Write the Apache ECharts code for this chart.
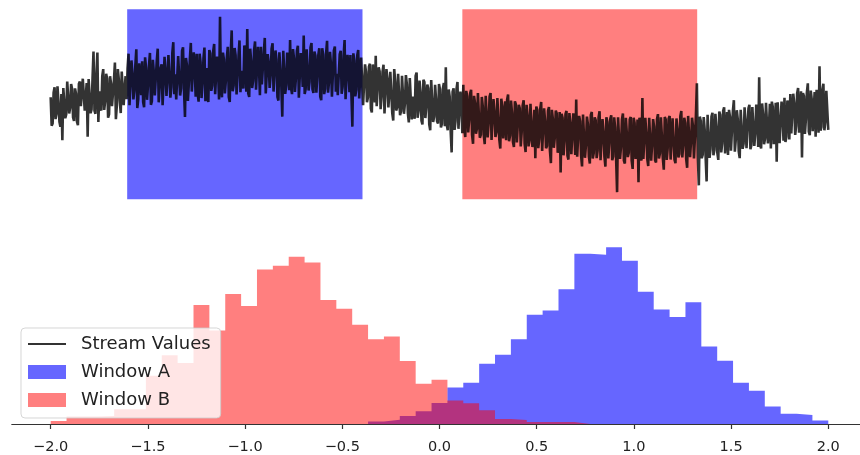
<!DOCTYPE html>
<html><head><meta charset="utf-8">
<script src="https://cdn.jsdelivr.net/npm/echarts@6/dist/echarts.min.js"></script>
<style>html,body{margin:0;padding:0;background:#fff}#chart{width:860px;height:455px}</style>
</head><body><div id="chart"></div>
<script>
// Stream values (one value per ~1px)
const streamValues = [
0.36,-0.43,-0.37,0.49,0.64,-0.25,-0.09,0.67,0.22,-0.32,-0.46,0.45,-0.84,0.62,0.57,-0.22,-0.11,0.80,0.85,-0.09,0.07,0.73,0.59,-0.20,-0.30,0.61,0.47,-0.32,-0.42,0.74,0.80,0.11,0.07,0.88,0.93,-0.01,-0.05,0.76,-0.74,0.87,
0.91,-0.08,0.02,0.88,1.64,-0.01,-0.10,1.01,1.61,-0.33,0.53,0.08,-0.01,0.95,1.15,0.01,0.26,1.02,0.88,-0.21,-0.11,0.95,0.75,0.11,0.47,0.83,1.33,-0.25,0.14,1.15,0.86,0.26,-0.08,1.08,1.08,0.14,0.60,0.95,0.31,1.17,
1.58,0.14,0.14,1.39,1.04,0.30,0.55,1.25,1.70,0.06,0.31,1.31,0.92,0.42,1.37,0.23,0.08,1.48,1.18,0.29,0.69,1.24,1.60,0.15,0.25,1.41,1.06,0.41,0.46,1.37,1.72,0.22,0.68,1.18,1.28,0.14,0.09,1.49,1.04,0.40,
0.39,1.54,1.59,0.35,0.65,1.60,1.90,0.45,1.00,0.30,0.31,1.51,1.47,0.41,0.61,1.66,1.76,0.56,-0.19,1.46,1.26,0.26,0.77,1.42,1.88,0.52,0.48,1.62,1.13,0.38,1.58,0.48,0.24,1.58,1.34,0.34,0.74,1.44,1.75,0.25,
1.18,0.38,0.23,1.68,1.59,0.54,0.69,1.64,1.85,0.45,0.45,1.50,1.10,0.30,2.61,0.61,0.36,1.61,1.42,0.47,0.82,1.47,1.77,0.37,0.23,1.58,2.23,0.53,0.69,1.74,1.54,0.44,0.44,1.49,1.95,0.50,1.10,0.71,0.61,1.81,
1.52,0.52,2.27,0.47,0.37,1.72,1.37,0.62,0.82,1.67,1.92,0.57,0.52,1.77,1.22,0.42,1.77,0.72,0.67,1.62,2.02,0.47,0.42,1.57,1.32,0.62,0.97,1.72,1.87,0.52,0.57,1.67,1.42,0.37,0.27,1.62,1.67,0.67,-0.18,1.66,
1.71,0.46,0.71,1.61,1.26,0.56,1.96,0.61,0.45,1.71,1.45,0.51,0.90,1.66,1.80,0.35,0.35,1.60,1.35,0.65,2.09,0.45,0.59,1.70,1.14,0.55,0.79,1.75,1.88,0.59,0.48,1.64,1.53,0.49,0.98,1.54,1.73,0.38,0.28,1.73,
1.55,0.45,0.60,1.59,1.94,0.49,0.79,1.63,1.28,0.38,0.33,1.67,1.78,0.52,1.02,0.42,0.47,1.56,1.66,0.46,0.66,1.51,1.96,0.31,0.35,1.55,1.20,0.50,1.54,0.45,-0.46,1.59,1.39,0.39,0.58,1.53,1.68,0.33,0.37,1.47,
1.48,0.14,0.14,1.28,1.08,0.22,0.36,1.21,1.30,0.04,-0.06,1.28,0.83,0.22,1.52,0.11,0.15,1.20,1.09,0.03,0.38,1.07,1.27,-0.09,-0.09,1.15,0.89,0.08,0.48,1.07,1.12,-0.09,-0.29,1.15,0.80,-0.01,0.08,1.02,1.02,-0.14,
-0.03,0.96,1.00,-0.10,0.19,0.98,0.72,-0.08,-0.34,0.90,0.85,-0.26,0.38,-0.08,-0.24,0.96,1.05,-0.21,-0.01,0.83,0.52,-0.29,-0.40,0.85,0.79,-0.22,0.12,0.72,0.61,-0.40,-0.56,0.84,0.83,-0.33,-0.18,0.71,0.29,-0.31,-0.37,0.73,
0.58,-0.48,-0.38,0.61,0.76,-0.45,1.20,-0.41,-0.56,0.58,0.38,-0.58,-1.18,0.51,0.61,-0.55,-0.30,0.59,0.79,-0.52,-0.57,0.52,0.17,-0.64,0.71,-0.50,-0.75,0.54,0.39,-0.62,-0.27,0.47,0.57,-0.69,-0.94,0.40,0.20,-0.66,-0.51,0.48,
0.43,-0.77,-0.68,0.37,0.11,-0.69,-0.95,0.40,0.35,-0.76,-0.36,0.38,0.48,-0.83,-0.83,0.31,-0.04,-0.75,-0.61,0.34,0.39,-0.82,-1.07,0.32,0.12,-0.79,-0.29,0.25,-0.84,0.29,0.44,-0.87,-0.71,0.27,-0.07,-0.89,-1.03,0.25,0.16,-0.90,
-0.94,0.15,0.05,-1.01,-0.61,0.13,0.28,-0.93,-1.17,0.15,-0.14,-1.01,-0.85,0.18,0.14,-1.03,-0.58,0.01,-1.34,0.10,0.00,-1.06,-0.81,0.03,0.23,-1.14,-1.13,0.05,-0.29,-1.06,-1.00,-0.02,0.09,-1.13,-1.48,0.01,-0.24,-1.05,-0.76,-0.01,
-0.09,-1.19,-1.05,-0.05,-1.74,-0.10,-0.21,-1.26,-0.86,-0.11,-0.02,-1.27,-1.38,-0.08,-0.38,-1.23,-1.19,-0.09,-0.59,-1.25,0.30,-1.30,-1.31,-0.16,-0.31,-1.26,-1.57,-0.12,-0.12,-1.33,-0.98,-0.18,-0.39,-1.29,-1.49,-0.14,-0.05,-1.35,-1.20,-0.20,
-0.28,-1.34,-1.13,-0.20,-0.03,-1.40,-1.38,-0.25,-0.58,-1.30,-1.58,-0.20,-0.33,-1.35,-0.89,-0.25,-0.14,-1.40,-1.29,-0.20,-0.49,-1.35,-2.29,-0.20,-0.24,-1.36,-1.04,-0.26,-0.09,-1.41,-1.49,-0.21,-0.64,-1.31,-1.19,-0.26,-0.19,-1.41,-1.64,-0.21,
-0.36,-1.36,-1.11,-0.26,-2.01,-0.21,-0.41,-1.41,0.34,-1.36,-1.36,-0.21,-0.61,-1.36,-1.56,-0.21,-0.21,-1.41,-0.96,-0.25,-0.46,-1.40,-1.46,-0.25,-0.11,-1.35,-1.21,-0.20,-0.71,-1.34,-1.66,-0.19,-0.26,-1.39,-1.06,-0.24,-0.16,-1.38,-1.41,-0.23,
-0.28,-1.38,-1.48,-0.23,-0.53,-1.32,-1.22,-0.17,-0.02,-1.32,-0.97,-0.21,-0.36,-1.36,-1.61,-0.16,-0.16,-1.31,-0.86,-0.21,-0.46,-1.35,-1.35,-0.15,0.75,-1.30,-2.10,-0.18,-0.30,-1.34,-1.24,-0.19,-0.54,-1.33,-1.99,-0.13,-0.18,-1.33,-1.08,-0.18,
-0.07,-1.26,-1.11,-0.10,-0.45,-1.19,-1.39,-0.04,-0.13,-1.18,-0.93,-0.02,0.08,-1.21,-0.76,-0.05,-1.25,0.01,-0.19,-1.13,-1.08,-0.02,0.28,-1.16,-0.81,0.00,-0.25,-1.15,-1.34,0.01,0.02,-1.08,-0.93,0.08,-0.37,-1.06,-1.11,0.05,0.15,-1.09,
-0.97,0.09,0.09,-1.00,-0.65,0.16,-0.04,-1.03,0.92,-0.97,-1.07,0.19,-0.11,-0.95,-0.80,0.21,0.21,-0.93,-0.48,0.18,-1.07,0.24,0.09,-0.95,-0.65,0.21,-1.44,0.22,0.17,-0.92,-0.87,0.24,-0.06,-0.85,0.35,-0.89,-0.74,0.27,0.07,-0.82,
0.45,-0.65,-0.70,0.46,0.21,-0.69,-0.44,0.47,0.62,-0.63,-0.58,0.53,-1.32,0.48,0.39,-0.66,-0.26,0.49,0.75,-0.60,-0.70,0.55,0.30,-0.59,0.01,0.51,-0.74,0.57,0.57,-0.63,1.23,-0.57,-0.47,0.58,0.74,-0.56,-0.31,0.54,0.50,-0.55
];
const windowA = [78.6, 320.4];
const windowB = [423, 664.3];

// Histogram (density) over 49 equal bins from -2 to 2
const histRange = [-2, 2];
const histBins = 49;
const windowAHist = [0,0,0,0,0,0,0,0,0,0,0,0,0,0,0,0,0,0,0,0,
0.015,0.025,0.046,0.074,0.122,0.212,0.240,0.350,0.402,0.492,0.635,0.659,0.783,0.989,0.983,1.027,0.949,0.768,0.665,0.621,0.707,0.450,0.368,0.240,0.193,0.101,0.059,0.053,0.021];
const windowBHist = [0.017,0.043,0.043,0.046,0.086,0.086,0.280,0.400,0.354,0.692,0.543,0.755,0.686,0.898,0.920,0.972,0.938,0.720,0.669,0.577,0.492,0.509,0.366,0.234,0.257,0.137,0.120,0.080,0.029,0.023,0.011,0.011,0.011,
0,0,0,0,0,0,0,0,0,0,0,0,0,0,0,0];

const tickValues = [-2, -1.5, -1, -0.5, 0, 0.5, 1, 1.5, 2];
const tickLabels = ['\u22122.0','\u22121.5','\u22121.0','\u22120.5','0.0','0.5','1.0','1.5','2.0'];

const binW = (histRange[1] - histRange[0]) / histBins;
function stepData(h) {
  const d = [];
  for (let k = 0; k < h.length; k++) d.push([histRange[0] + k * binW, h[k]]);
  d.push([histRange[1], h[h.length - 1]]);
  return d;
}
const n = streamValues.length;
const streamData = streamValues.map((v, i) => [i, v]);
// axes margins (left 5%, right side cut by the canvas edge)
const leftMargin = 0.05, rightMargin = 0.0408;
const span = histRange[1] - histRange[0];
const font = 'DejaVu Sans';

const chart = echarts.init(document.getElementById('chart'), null, {renderer: 'canvas'});
chart.setOption({
  animation: false,
  backgroundColor: '#fff',
  grid: [
    {left: 11.8, right: 0, top: 9.3, height: 190},
    {left: 11.8, right: 0, top: 238, height: 189}
  ],
  xAxis: [
    {type: 'value', gridIndex: 0, min: -leftMargin * (n - 1), max: (n - 1) * (1 + rightMargin), show: false},
    {type: 'value', gridIndex: 1, min: histRange[0] - leftMargin * span, max: histRange[1] + rightMargin * span,
     splitLine: {show: false},
     axisLine: {onZero: false, lineStyle: {color: '#333', width: 1.2}},
     axisTick: {customValues: tickValues, length: 5, lineStyle: {color: '#333', width: 1.2}},
     axisLabel: {customValues: tickValues, margin: 16, fontSize: 14.5, color: '#222', fontFamily: font,
       formatter: v => tickLabels[tickValues.findIndex(t => Math.abs(t - v) < 1e-9)]}}
  ],
  yAxis: [
    {type: 'value', gridIndex: 0, min: -2.49, max: 2.82, show: false},
    {type: 'value', gridIndex: 1, min: 0, max: 1.0805, show: false}
  ],
  legend: {
    orient: 'vertical', left: 21, top: 328, padding: [7, 10, 9, 7], itemGap: 10,
    itemWidth: 38, itemHeight: 14, selectedMode: false,
    backgroundColor: 'rgba(255,255,255,0.8)', borderColor: 'rgba(204,204,204,0.8)',
    borderWidth: 1, borderRadius: 4,
    textStyle: {fontFamily: font, fontSize: 18, color: '#222', padding: [0, 0, 0, 10]},
    data: [
      {name: 'Stream Values', icon: 'path://M0,0H38V2H0Z', itemStyle: {color: 'rgba(0,0,0,0.8)'}},
      {name: 'Window A', icon: 'rect', itemStyle: {color: 'rgba(0,0,255,0.6)'}},
      {name: 'Window B', icon: 'rect', itemStyle: {color: 'rgba(255,0,0,0.5)'}}
    ]
  },
  series: [
    {name: 'Stream Values', type: 'line', xAxisIndex: 0, yAxisIndex: 0, data: streamData,
     symbol: 'none', showSymbol: false, z: 3, silent: true,
     lineStyle: {color: 'rgba(0,0,0,0.8)', width: 2.6, join: 'bevel'}, itemStyle: {color: 'rgba(0,0,0,0.8)'},
     markArea: {silent: true, label: {show: false}, itemStyle: {borderWidth: 0},
       data: [
         [{xAxis: windowA[0], itemStyle: {color: 'rgba(0,0,255,0.6)'}}, {xAxis: windowA[1]}],
         [{xAxis: windowB[0], itemStyle: {color: 'rgba(255,0,0,0.5)'}}, {xAxis: windowB[1]}]
       ]}},
    {name: 'Window A', type: 'line', xAxisIndex: 1, yAxisIndex: 1, data: stepData(windowAHist),
     step: 'end', symbol: 'none', showSymbol: false, silent: true,
     lineStyle: {width: 0}, itemStyle: {color: 'rgba(0,0,255,0.6)'},
     areaStyle: {color: '#0000ff', opacity: 0.6}},
    {name: 'Window B', type: 'line', xAxisIndex: 1, yAxisIndex: 1, data: stepData(windowBHist),
     step: 'end', symbol: 'none', showSymbol: false, silent: true,
     lineStyle: {width: 0}, itemStyle: {color: 'rgba(255,0,0,0.5)'},
     areaStyle: {color: '#ff0000', opacity: 0.5}}
  ]
});
</script></body></html>
